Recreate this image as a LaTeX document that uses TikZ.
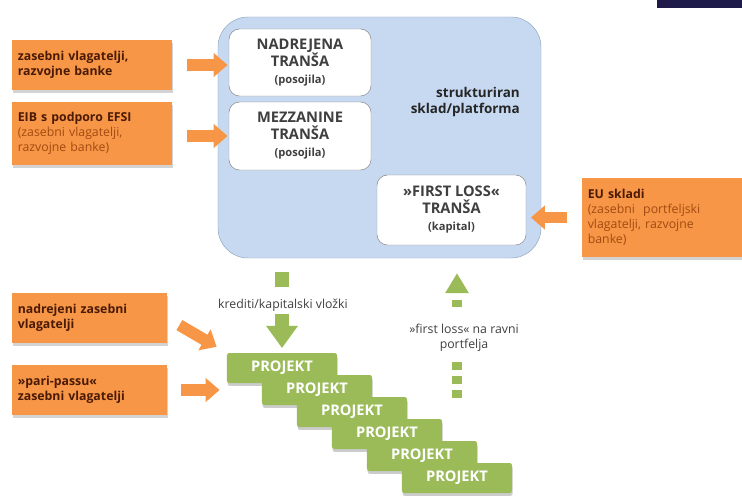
\documentclass[tikz,border=0pt]{standalone}
\usepackage{fontspec}
\setmainfont{Open Sans}
\usetikzlibrary{arrows.meta,shadows}
\definecolor{oranz}{HTML}{F79646}
\definecolor{temna}{HTML}{4A1A05}
\definecolor{rjava}{HTML}{A24A12}
\definecolor{modra}{HTML}{C6D9F1}
\definecolor{modrirob}{HTML}{8EA4BE}
\definecolor{zelena}{HTML}{9BBB59}
\definecolor{siva}{HTML}{3F3F3F}
\definecolor{mornar}{HTML}{1E1B4B}
\tikzset{
  vlagatelj/.style={fill=oranz, text=temna, align=left, text width=4.45cm,
    inner xsep=0.175cm, minimum height=1.5cm,
    font=\bfseries\fontsize{10.5}{12.8}\selectfont,
    drop shadow={shadow xshift=0.5pt, shadow yshift=-2.5pt, opacity=0.35, fill=gray}},
  transa/.style={draw=gray, thin, fill=white, rounded corners=9pt, align=center,
    text=siva, font=\bfseries\fontsize{12.5}{14.5}\selectfont},
  projekt/.style={fill=zelena, text=white, rounded corners=2pt,
    minimum width=3.3cm, minimum height=0.9cm,
    font=\bfseries\fontsize{12.5}{14}\selectfont,
    drop shadow={shadow xshift=0.5pt, shadow yshift=-2.5pt, opacity=0.4, fill=gray}},
  puscica/.style={draw=oranz, line width=10pt, -{Triangle[length=12pt,width=20pt]}},
  oznaka/.style={text=siva, font=\fontsize{10.5}{12.5}\selectfont}
}
\newcommand{\drobno}[1]{{\fontsize{9.5}{12.5}\selectfont #1}}
\begin{document}
\begin{tikzpicture}[x=0.03cm, y=-0.03cm]
	\useasboundingbox (0,0) rectangle (742,501);
	% trak desno zgoraj
	\fill[mornar] (657,0) rectangle (742,8);
	% sklad
	\node[draw=modrirob, fill=modra, rounded corners=0.9cm, minimum width=9.69cm,
		minimum height=7.23cm] (sklad) at (379.5,137.5) {};
	\node[transa, minimum width=4.26cm, minimum height=2.01cm] (nadrejena) at (300,62.5)
		{NADREJENA\\TRANŠA\\\drobno{(posojila)}};
	\node[transa, minimum width=4.26cm, minimum height=2.04cm] (mezzanine) at (300,136)
		{MEZZANINE\\TRANŠA\\\drobno{(posojila)}};
	\node[transa, minimum width=4.47cm, minimum height=2.1cm] (firstloss) at (451.5,210)
		{»FIRST LOSS«\\TRANŠA\\\drobno{(kapital)}};
	\node[anchor=east, align=right, text=black!85, font=\bfseries\fontsize{11.5}{14}\selectfont]
		(naslov) at (524,102) {strukturiran\\sklad/platforma};
	% vlagatelji
	\node[vlagatelj] (zasebni) at (92,65) {zasebni vlagatelji,\\razvojne banke};
	\node[vlagatelj, minimum height=1.89cm] (eib) at (92,133.5)
		{EIB s podporo EFSI\\\mdseries\color{rjava}(zasebni vlagatelji,\\razvojne banke)};
	\node[vlagatelj, minimum height=2.37cm] (eu) at (662,217.5)
		{EU skladi\\\mdseries\color{rjava}(zasebni\ \ portfeljski\\vlagatelji, razvojne\\banke)};
	\node[vlagatelj, text width=4.3cm] (nadzas) at (89.5,318) {nadrejeni zasebni\\vlagatelji};
	\node[vlagatelj, text width=4.3cm] (pari) at (89.5,390) {»pari-passu«\\zasebni vlagatelji};
	% projekti
	\foreach \i in {1,...,6}
		\node[projekt] (p\i) at ({282+35*(\i-1)}, {368+22*(\i-1)}) {PROJEKT};
	% oranzne puscice
	\draw[puscica, shorten <=13pt, shorten >=1pt] (zasebni.east) -- (zasebni.east -| nadrejena.west);
	\draw[puscica, shorten <=13pt, shorten >=1pt] (eib.east |- mezzanine.west) -- (mezzanine.west);
	\draw[puscica, shorten <=13pt, shorten >=4pt] (eu.west) -- (eu.west -| firstloss.east);
	\draw[puscica, shorten <=12pt, shorten >=10pt] (nadzas.east) -- (p1.north west);
	\draw[puscica, shorten <=12pt, shorten >=36pt] (pari.east) -- (pari.east -| p2.west);
	% zelene puscice
	\draw[zelena, line width=12.5pt, -{Triangle[length=19pt,width=26pt]},
		dash pattern=on 12.75pt off 23pt on 40pt, shorten <=12pt, shorten >=4pt]
		(sklad.south -| p1.north) -- (p1.north);
	\node[oznaka] (krediti) at (283,305) {krediti/kapitalski vložki};
	\draw[zelena, line width=8.5pt, -{Triangle[length=17pt,width=19pt]},
		dash pattern=on 6.8pt off 5.1pt on 6.8pt off 5.1pt on 6.8pt off 47.6pt on 6pt off 20pt,
		shorten <=55pt, shorten >=12.75pt]
		(p6.north) -- (p6.north |- sklad.south);
	\node[oznaka, align=center] (izguba) at (464,338) {»first loss« na ravni\\portfelja};
\end{tikzpicture}
\end{document}
